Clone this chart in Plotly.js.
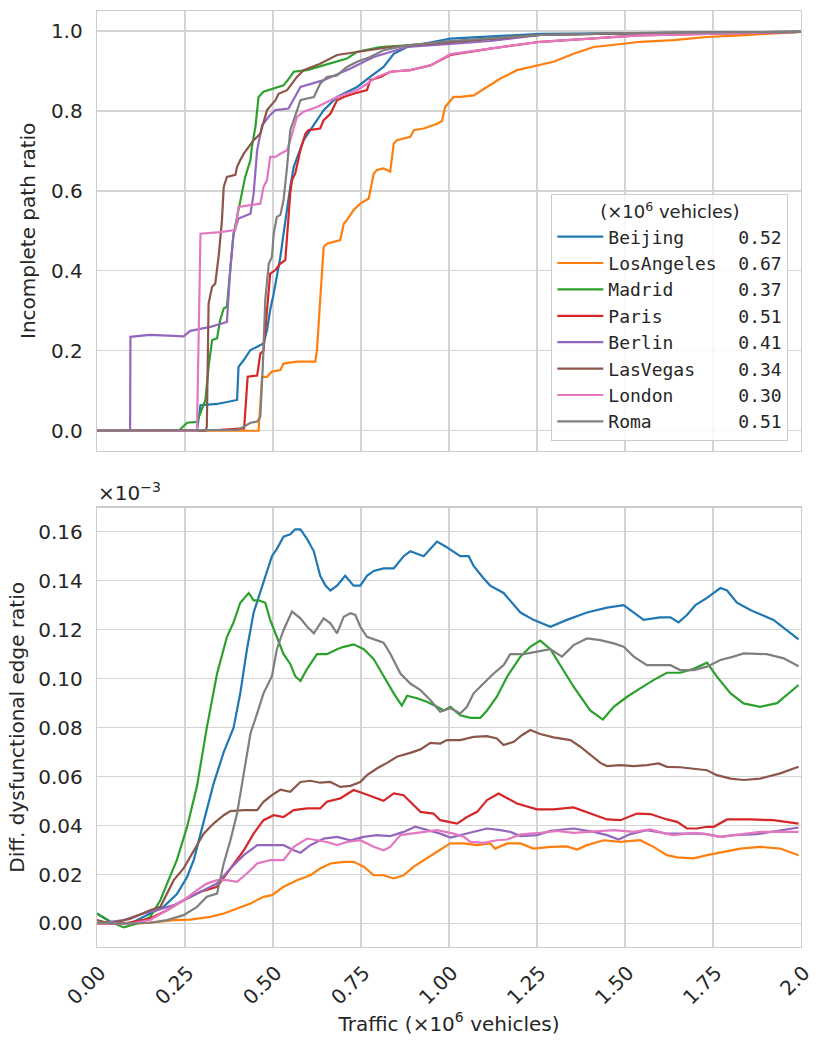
<!DOCTYPE html>
<html>
<head>
<meta charset="utf-8">
<script src="https://cdn.plot.ly/plotly-3.0.1.min.js"></script>
<style>html,body{margin:0;padding:0;background:#fff;} #chart{width:831px;height:1046px;}</style>
</head>
<body>
<div id="chart"></div>
<script>
// ---------- data ----------
const cities = ["Beijing","LosAngeles","Madrid","Paris","Berlin","LasVegas","London","Roma"];
const cityValues = ["0.52","0.67","0.37","0.51","0.41","0.34","0.30","0.51"];
const colors = ["#1f77b4","#ff7f0e","#2ca02c","#d62728","#9467bd","#8c564b","#e377c2","#7f7f7f"];
const xTickVals = [0,0.25,0.5,0.75,1.0,1.25,1.5,1.75,2.0];
const xTickText = ["0.00","0.25","0.50","0.75","1.00","1.25","1.50","1.75","2.0"];

// Top panel: incomplete path ratio
const beijingTopX = [0,0.284,0.294,0.341,0.398,0.402,0.417,0.436,0.455,0.473,0.483,0.492,0.502,0.511,0.521,0.530,0.540,0.549,0.559,0.573,0.587,0.606,0.625,0.644,0.682,0.739,0.776,0.814,0.843,0.881,0.928,1.004,1.26,1.5,2.0];
const beijingTopY = [0,0,0.064,0.067,0.077,0.160,0.177,0.202,0.210,0.218,0.252,0.302,0.343,0.385,0.435,0.493,0.560,0.610,0.660,0.693,0.727,0.752,0.777,0.802,0.835,0.860,0.885,0.910,0.943,0.960,0.968,0.981,0.993,0.995,0.998];
const laTopX = [0,0.459,0.469,0.483,0.497,0.521,0.530,0.568,0.620,0.625,0.634,0.644,0.653,0.691,0.701,0.710,0.729,0.748,0.772,0.786,0.795,0.814,0.833,0.843,0.852,0.890,0.900,0.928,0.966,0.980,0.989,1.013,1.032,1.070,1.108,1.146,1.193,1.250,1.297,1.354,1.411,1.496,1.543,1.638,1.733,1.828,1.993];
const laTopY = [0,0,0.135,0.135,0.148,0.152,0.168,0.173,0.173,0.202,0.327,0.460,0.468,0.477,0.518,0.527,0.552,0.568,0.581,0.643,0.652,0.656,0.648,0.718,0.727,0.735,0.752,0.756,0.768,0.775,0.810,0.835,0.835,0.839,0.860,0.881,0.902,0.914,0.923,0.943,0.960,0.968,0.973,0.977,0.985,0.989,0.998];
const madridTopX = [0,0.232,0.256,0.284,0.308,0.317,0.327,0.341,0.350,0.360,0.369,0.379,0.388,0.398,0.412,0.421,0.436,0.440,0.450,0.459,0.473,0.502,0.530,0.549,0.559,0.597,0.644,0.710,0.739,0.805,0.881,1.004,1.25,1.5,2.0];
const madridTopY = [0,0,0.020,0.022,0.077,0.160,0.227,0.231,0.277,0.306,0.310,0.410,0.493,0.535,0.602,0.635,0.677,0.710,0.760,0.835,0.848,0.856,0.864,0.885,0.898,0.902,0.914,0.931,0.948,0.960,0.964,0.973,0.990,0.994,0.998];
const parisTopX = [0,0.35,0.418,0.428,0.455,0.464,0.473,0.488,0.492,0.507,0.521,0.535,0.540,0.549,0.554,0.563,0.578,0.592,0.601,0.634,0.644,0.663,0.682,0.701,0.729,0.767,0.776,0.805,0.833,0.890,0.947,1.004,1.117,1.26,1.54,2.0];
const parisTopY = [0,0.002,0.006,0.135,0.138,0.193,0.200,0.343,0.393,0.402,0.418,0.427,0.493,0.593,0.627,0.643,0.702,0.743,0.752,0.756,0.777,0.793,0.827,0.835,0.843,0.852,0.877,0.885,0.898,0.902,0.914,0.940,0.956,0.973,0.989,0.998];
const berlinTopX = [0,0.094,0.095,0.15,0.2,0.246,0.265,0.322,0.369,0.379,0.388,0.402,0.436,0.445,0.455,0.469,0.492,0.507,0.544,0.578,0.644,0.720,0.786,0.881,1.004,1.117,1.26,1.5,2.0];
const berlinTopY = [0,0,0.235,0.240,0.238,0.236,0.250,0.260,0.272,0.410,0.493,0.531,0.543,0.593,0.702,0.764,0.790,0.802,0.806,0.860,0.877,0.906,0.935,0.960,0.968,0.975,0.990,0.994,0.998];
const vegasTopX = [0,0.308,0.312,0.317,0.327,0.336,0.346,0.355,0.360,0.369,0.393,0.398,0.407,0.417,0.431,0.445,0.464,0.483,0.507,0.516,0.540,0.568,0.587,0.634,0.682,0.739,0.833,1.004,1.26,1.5,2.0];
const vegasTopY = [0,0,0.010,0.318,0.360,0.368,0.440,0.527,0.610,0.635,0.640,0.660,0.677,0.693,0.710,0.727,0.743,0.802,0.827,0.843,0.852,0.885,0.902,0.918,0.940,0.948,0.960,0.973,0.990,0.994,0.998];
const londonTopX = [0,0.284,0.294,0.35,0.393,0.402,0.440,0.464,0.473,0.483,0.492,0.507,0.521,0.540,0.549,0.559,0.568,0.587,0.625,0.682,0.739,0.767,0.795,0.833,0.890,0.947,1.004,1.117,1.26,1.54,2.0];
const londonTopY = [0,0,0.493,0.497,0.502,0.560,0.565,0.568,0.610,0.627,0.685,0.685,0.693,0.702,0.727,0.760,0.785,0.798,0.810,0.835,0.852,0.868,0.885,0.898,0.902,0.914,0.942,0.956,0.973,0.989,0.998];
const romaTopX = [0,0.40,0.417,0.436,0.455,0.464,0.471,0.478,0.488,0.497,0.502,0.511,0.521,0.530,0.540,0.549,0.559,0.568,0.578,0.597,0.616,0.634,0.653,0.682,0.710,0.739,0.776,0.814,0.881,1.004,1.26,1.5,2.0];
const romaTopY = [0,0.002,0.010,0.020,0.023,0.035,0.160,0.327,0.418,0.435,0.493,0.535,0.540,0.577,0.660,0.752,0.777,0.802,0.827,0.831,0.835,0.868,0.885,0.889,0.910,0.923,0.935,0.952,0.964,0.975,0.990,0.995,0.998];

// Bottom panel: differential dysfunctional edge ratio (x1e-3)
const beijingBotX = [0,0.038,0.095,0.151,0.189,0.227,0.256,0.275,0.303,0.331,0.360,0.388,0.407,0.426,0.445,0.473,0.497,0.511,0.530,0.549,0.563,0.578,0.597,0.616,0.634,0.649,0.663,0.682,0.705,0.729,0.748,0.767,0.786,0.814,0.843,0.871,0.890,0.928,0.966,0.990,1.013,1.032,1.056,1.070,1.098,1.117,1.155,1.174,1.203,1.240,1.288,1.335,1.392,1.449,1.496,1.525,1.553,1.600,1.629,1.652,1.676,1.700,1.733,1.771,1.790,1.818,1.856,1.922,1.993];
const beijingBotY = [0.0041,0.0007,0.0,0.004,0.0068,0.012,0.019,0.026,0.042,0.057,0.070,0.080,0.094,0.112,0.127,0.139,0.150,0.153,0.158,0.159,0.161,0.161,0.157,0.152,0.142,0.138,0.136,0.138,0.142,0.138,0.138,0.142,0.144,0.145,0.145,0.150,0.152,0.150,0.156,0.154,0.152,0.150,0.150,0.146,0.141,0.138,0.135,0.132,0.127,0.124,0.1212,0.124,0.127,0.129,0.130,0.127,0.124,0.125,0.125,0.123,0.126,0.130,0.133,0.137,0.136,0.131,0.128,0.124,0.116];
const laBotX = [0,0.123,0.170,0.218,0.265,0.322,0.360,0.398,0.436,0.473,0.497,0.530,0.568,0.606,0.634,0.663,0.701,0.729,0.758,0.786,0.814,0.843,0.871,0.900,0.928,0.966,0.990,1.004,1.042,1.080,1.117,1.131,1.165,1.203,1.240,1.288,1.335,1.364,1.392,1.439,1.487,1.543,1.581,1.619,1.648,1.695,1.733,1.780,1.828,1.884,1.941,1.993];
const laBotY = [0,0,0.0007,0.0014,0.0016,0.0027,0.0041,0.0061,0.0082,0.0109,0.0116,0.015,0.0177,0.0197,0.0225,0.0245,0.0252,0.0252,0.0232,0.0197,0.0197,0.0184,0.0197,0.0232,0.0259,0.0293,0.0315,0.0327,0.0327,0.032,0.0327,0.0306,0.0327,0.0327,0.0306,0.0313,0.0315,0.0302,0.032,0.034,0.0333,0.034,0.0313,0.0279,0.027,0.0266,0.0279,0.0293,0.0306,0.0313,0.0306,0.0279];
const madridBotX = [0,0.038,0.076,0.114,0.151,0.180,0.199,0.227,0.256,0.284,0.312,0.341,0.369,0.388,0.407,0.431,0.445,0.459,0.478,0.492,0.511,0.530,0.549,0.563,0.578,0.597,0.625,0.653,0.682,0.701,0.729,0.758,0.786,0.814,0.843,0.866,0.881,0.909,0.937,0.966,0.985,1.004,1.032,1.061,1.089,1.108,1.136,1.165,1.203,1.231,1.259,1.288,1.326,1.354,1.401,1.437,1.468,1.506,1.543,1.581,1.619,1.657,1.695,1.733,1.761,1.800,1.837,1.884,1.932,1.993];
const madridBotY = [0.004,0.0007,-0.0016,0.0,0.0027,0.0095,0.0163,0.026,0.0395,0.056,0.080,0.102,0.117,0.123,0.131,0.135,0.132,0.132,0.131,0.124,0.117,0.110,0.106,0.101,0.099,0.104,0.110,0.110,0.112,0.113,0.114,0.112,0.108,0.101,0.094,0.089,0.093,0.092,0.0906,0.0885,0.087,0.0885,0.085,0.084,0.084,0.087,0.0926,0.1008,0.109,0.113,0.1155,0.112,0.1035,0.0967,0.087,0.0833,0.0885,0.0926,0.096,0.0994,0.1024,0.1024,0.104,0.1065,0.1008,0.094,0.0899,0.0885,0.090,0.0974];
const parisBotX = [0,0.076,0.151,0.199,0.246,0.293,0.341,0.379,0.417,0.445,0.473,0.502,0.530,0.559,0.597,0.634,0.653,0.691,0.729,0.758,0.786,0.814,0.843,0.871,0.900,0.919,0.956,0.975,1.023,1.051,1.080,1.108,1.141,1.165,1.193,1.250,1.297,1.354,1.401,1.449,1.487,1.534,1.572,1.619,1.648,1.676,1.704,1.733,1.752,1.790,1.856,1.922,1.993];
const parisBotY = [0,0,0.002,0.0054,0.0095,0.0129,0.015,0.0225,0.0299,0.0367,0.0422,0.0442,0.0435,0.0463,0.047,0.047,0.0497,0.0511,0.0545,0.0531,0.0517,0.0501,0.0531,0.0524,0.0483,0.0456,0.0449,0.0422,0.0408,0.0435,0.0456,0.0504,0.0531,0.0511,0.049,0.0466,0.0466,0.0474,0.0449,0.0425,0.0422,0.0449,0.0447,0.0425,0.0415,0.0388,0.0388,0.0395,0.0395,0.0425,0.0425,0.0422,0.0408];
const berlinBotX = [0,0.076,0.132,0.170,0.218,0.265,0.303,0.341,0.379,0.417,0.455,0.492,0.530,0.559,0.578,0.606,0.644,0.682,0.720,0.758,0.795,0.833,0.871,0.904,0.937,0.975,1.004,1.032,1.070,1.108,1.146,1.174,1.203,1.250,1.288,1.354,1.411,1.449,1.482,1.515,1.562,1.619,1.676,1.723,1.771,1.808,1.875,1.932,1.993];
const berlinBotY = [0,0.0014,0.0041,0.0054,0.0075,0.0109,0.0136,0.0163,0.0225,0.0279,0.032,0.032,0.032,0.0299,0.0289,0.032,0.0347,0.0354,0.034,0.0354,0.0361,0.0357,0.0374,0.0395,0.0381,0.0367,0.0351,0.0361,0.0374,0.0388,0.0381,0.0374,0.0357,0.0361,0.0378,0.0388,0.0374,0.0361,0.0343,0.0365,0.0381,0.0367,0.0367,0.0367,0.0354,0.0361,0.0365,0.0378,0.0392];
const vegasBotX = [0,0.038,0.095,0.151,0.180,0.218,0.246,0.275,0.303,0.331,0.360,0.379,0.417,0.455,0.473,0.497,0.521,0.549,0.578,0.606,0.634,0.663,0.691,0.720,0.748,0.767,0.795,0.824,0.852,0.890,0.919,0.947,0.975,0.994,1.032,1.070,1.108,1.136,1.155,1.184,1.207,1.231,1.259,1.297,1.345,1.373,1.401,1.430,1.449,1.487,1.525,1.562,1.595,1.619,1.657,1.695,1.733,1.761,1.800,1.837,1.884,1.941,1.993];
const vegasBotY = [0.0014,0.0,0.002,0.0054,0.0068,0.0177,0.0225,0.0299,0.0367,0.0408,0.0442,0.0459,0.0463,0.0463,0.0497,0.0524,0.0547,0.0538,0.0578,0.0583,0.0575,0.0578,0.0558,0.0562,0.0578,0.0606,0.0633,0.0656,0.0681,0.0697,0.0711,0.0738,0.0735,0.0749,0.0749,0.0762,0.0765,0.0756,0.0729,0.0742,0.0769,0.079,0.0774,0.076,0.0749,0.0722,0.0688,0.0656,0.0643,0.0647,0.0643,0.0647,0.0654,0.064,0.0638,0.0633,0.0626,0.0606,0.0592,0.0586,0.0592,0.0613,0.064];
const londonBotX = [0,0.095,0.151,0.199,0.246,0.284,0.312,0.341,0.369,0.398,0.426,0.455,0.492,0.530,0.559,0.597,0.625,0.653,0.682,0.710,0.748,0.786,0.814,0.833,0.862,0.890,0.928,0.966,0.990,1.013,1.042,1.061,1.098,1.136,1.165,1.203,1.259,1.307,1.354,1.411,1.468,1.525,1.572,1.615,1.638,1.695,1.733,1.771,1.828,1.884,1.993];
const londonBotY = [0,0,0.0014,0.0054,0.0095,0.0136,0.0163,0.0177,0.0177,0.017,0.0204,0.0245,0.0259,0.0259,0.0313,0.0347,0.034,0.0333,0.032,0.0333,0.034,0.0313,0.0299,0.0313,0.0361,0.0367,0.0374,0.0381,0.0374,0.0367,0.0354,0.0333,0.0329,0.034,0.0343,0.0364,0.037,0.0378,0.037,0.0374,0.0381,0.0374,0.0384,0.0367,0.0361,0.037,0.0364,0.0354,0.0364,0.0374,0.0374];
const romaBotX = [0,0.076,0.151,0.199,0.246,0.284,0.312,0.341,0.360,0.379,0.398,0.417,0.436,0.455,0.473,0.497,0.511,0.530,0.554,0.578,0.597,0.616,0.644,0.663,0.682,0.701,0.720,0.734,0.748,0.767,0.795,0.814,0.833,0.862,0.890,0.919,0.947,0.975,1.004,1.032,1.051,1.070,1.098,1.127,1.155,1.174,1.212,1.250,1.288,1.321,1.354,1.392,1.430,1.468,1.496,1.525,1.562,1.600,1.629,1.657,1.695,1.733,1.771,1.808,1.837,1.903,1.951,1.993];
const romaBotY = [0.0003,0.0,0.0003,0.0014,0.0034,0.0068,0.0109,0.0122,0.0245,0.034,0.045,0.0613,0.0776,0.0858,0.094,0.101,0.112,0.1199,0.1274,0.1246,0.1212,0.1185,0.1246,0.1226,0.1185,0.1253,0.1267,0.126,0.1212,0.1171,0.1157,0.1147,0.1103,0.1021,0.098,0.0953,0.0913,0.0865,0.0879,0.0858,0.0885,0.094,0.098,0.1021,0.1055,0.110,0.110,0.111,0.112,0.109,0.1137,0.1164,0.1157,0.1144,0.113,0.109,0.1055,0.1055,0.1055,0.1035,0.1035,0.1049,0.1076,0.109,0.1103,0.110,0.1083,0.1051];

const topX = [beijingTopX, laTopX, madridTopX, parisTopX, berlinTopX, vegasTopX, londonTopX, romaTopX];
const topY = [beijingTopY, laTopY, madridTopY, parisTopY, berlinTopY, vegasTopY, londonTopY, romaTopY];
const botX = [beijingBotX, laBotX, madridBotX, parisBotX, berlinBotX, vegasBotX, londonBotX, romaBotX];
const botY = [beijingBotY, laBotY, madridBotY, parisBotY, berlinBotY, vegasBotY, londonBotY, romaBotY];

// ---------- traces ----------
const NB = '\u00a0';
const traces = [];
cities.forEach((c, i) => {
  const label = c + NB.repeat(Math.max(1, 12 - c.length)) + cityValues[i];
  traces.push({
    x: topX[i], y: topY[i], xaxis: 'x', yaxis: 'y', type: 'scatter', mode: 'lines',
    name: label, line: {color: colors[i], width: 2.2}, showlegend: true, hoverinfo: 'skip'
  });
});
cities.forEach((c, i) => {
  traces.push({
    x: botX[i], y: botY[i], xaxis: 'x2', yaxis: 'y2', type: 'scatter', mode: 'lines',
    name: c, line: {color: colors[i], width: 2.2}, showlegend: false, hoverinfo: 'skip'
  });
});

const txt = '#262626';
const gridC = '#d4d4d4';
const baseFont = {family: 'DejaVu Sans', size: 20, color: txt};
const axCommon = {
  showline: true, mirror: true, linecolor: '#cccccc', linewidth: 1.3,
  showgrid: true, gridcolor: gridC, gridwidth: 1.3, zeroline: false,
  tickfont: baseFont, automargin: false
};

const layout = {
  width: 831, height: 1046,
  margin: {l: 97, r: 30, t: 11, b: 99},
  paper_bgcolor: '#ffffff', plot_bgcolor: '#ffffff',
  font: baseFont,
  showlegend: true,
  xaxis: Object.assign({}, axCommon, {
    anchor: 'y', matches: 'x2', range: [0, 2], tickvals: xTickVals, ticktext: xTickText,
    showticklabels: false, ticks: ''
  }),
  yaxis: Object.assign({}, axCommon, {
    domain: [0.5302, 1], anchor: 'x', range: [-0.05, 1.05],
    tickvals: [0, 0.2, 0.4, 0.6, 0.8, 1.0], tickformat: '.1f',
    ticks: 'outside', ticklen: 9, tickcolor: 'rgba(0,0,0,0)',
    title: {text: 'Incomplete path ratio', font: baseFont, standoff: 10}
  }),
  xaxis2: Object.assign({}, axCommon, {
    anchor: 'y2', range: [0, 2], tickvals: xTickVals, ticktext: xTickText,
    tickangle: -45, ticks: 'outside', ticklen: 5, tickcolor: 'rgba(0,0,0,0)',
    ticklabelshift: 3,
    title: {text: 'Traffic (×10<sup>6</sup> vehicles)', font: baseFont, standoff: 3}
  }),
  yaxis2: Object.assign({}, axCommon, {
    domain: [0, 0.4693], anchor: 'x2', range: [-0.0096, 0.1698],
    tickvals: [0, 0.02, 0.04, 0.06, 0.08, 0.10, 0.12, 0.14, 0.16], tickformat: '.2f',
    ticks: 'outside', ticklen: 9, tickcolor: 'rgba(0,0,0,0)',
    title: {text: 'Diff. dysfunctional edge ratio', font: baseFont, standoff: 8}
  }),
  legend: {
    x: 0.6453, xanchor: 'left', y: 0.8045, yanchor: 'top',
    bgcolor: 'rgba(255,255,255,0.82)', bordercolor: '#cccccc', borderwidth: 1,
    font: {family: 'DejaVu Sans Mono', size: 18, color: txt},
    title: {text: '(×10<sup>6</sup> vehicles)', side: 'top center', font: {family: 'DejaVu Sans', size: 18, color: txt}},
    itemwidth: 46, traceorder: 'normal'
  },
  annotations: [{
    xref: 'paper', yref: 'paper', x: 0, y: 0.4693, xanchor: 'left', yanchor: 'bottom',
    text: '×10<sup>−3</sup>', showarrow: false, font: baseFont, xshift: -1, yshift: 1
  }]
};

Plotly.newPlot('chart', traces, layout, {staticPlot: true, displayModeBar: false});
</script>
</body>
</html>
